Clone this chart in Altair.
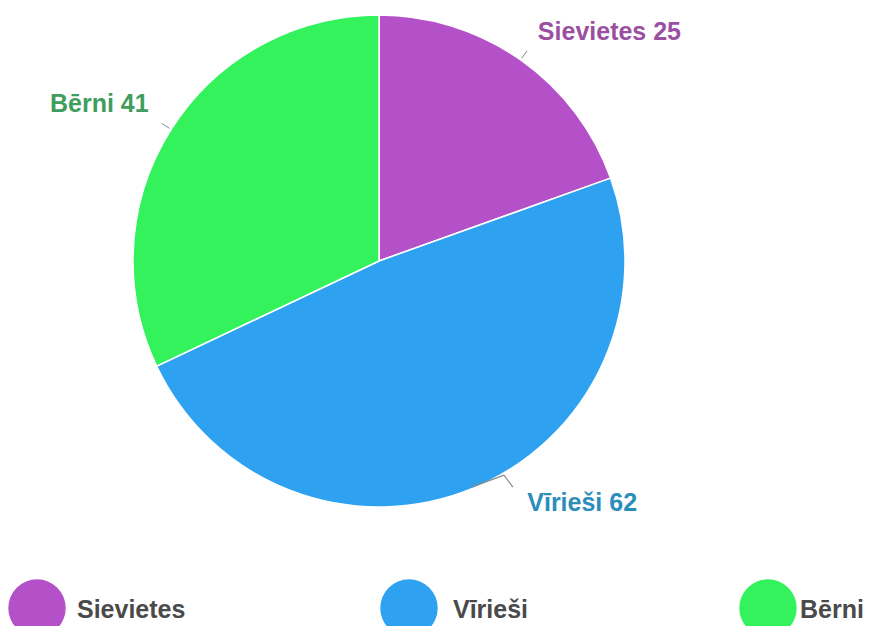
import altair as alt
import pandas as pd

categories = ["Sievietes", "Vīrieši", "Bērni"]
values = [25, 62, 41]
slice_colors = ["#B451C8", "#2EA2F0", "#33F25C"]
label_colors = ["#9A4FA3", "#2B8DBA", "#3F9E5E"]

df = pd.DataFrame({"category": categories, "value": values, "order": list(range(len(categories)))})

CX, CY, R = 371, 253, 246
FONT = "Liberation Sans, Arial, sans-serif"
color_scale = alt.Scale(domain=categories, range=slice_colors)

base = alt.Chart(df)

pie = base.mark_arc(stroke="white", strokeWidth=1.5, outerRadius=R).encode(
    theta=alt.Theta("value:Q", stack=True),
    color=alt.Color("category:N", scale=color_scale, legend=None),
    order=alt.Order("order:Q"),
    x=alt.value(CX),
    y=alt.value(CY),
)


def polar(chart):
    return (
        chart.transform_joinaggregate(total="sum(value)")
        .transform_window(cum="sum(value)", sort=[alt.SortField("order")], frame=[None, 0])
        .transform_calculate(mid="(datum.cum - datum.value/2)/datum.total*2*PI")
        .transform_calculate(
            x1=f"{CX} + {R + 2}*sin(datum.mid)",
            y1=f"{CY} - {R + 2}*cos(datum.mid)",
            x2=f"{CX} + {R + 11}*sin(datum.mid)",
            y2=f"{CY} - {R + 11}*cos(datum.mid)",
            lx=f"{CX} + 262*sin(datum.mid)",
            ly=f"{CY} - 262*cos(datum.mid)",
        )
    )


connectors = (
    polar(base)
    .transform_filter(alt.datum.category != "Vīrieši")
    .mark_rule(color="#8a8a8a", strokeWidth=1)
    .encode(
        x=alt.X("x1:Q", scale=None),
        y=alt.Y("y1:Q", scale=None),
        x2="x2:Q",
        y2="y2:Q",
    )
)

# bracket-shaped connector for the bottom label
bracket_a = (
    polar(base)
    .transform_filter(alt.datum.category == "Vīrieši")
    .transform_calculate(bx="datum.x1 - 2", by="datum.y1 - 3", cx2="datum.x1 + 30", cy2="datum.y1 - 15")
    .mark_rule(color="#8a8a8a", strokeWidth=1.2)
    .encode(x=alt.X("bx:Q", scale=None), y=alt.Y("by:Q", scale=None), x2="cx2:Q", y2="cy2:Q")
)
bracket_b = (
    polar(base)
    .transform_filter(alt.datum.category == "Vīrieši")
    .transform_calculate(bx="datum.x1 + 30", by="datum.y1 - 15", cx2="datum.x1 + 39", cy2="datum.y1 - 3")
    .mark_rule(color="#8a8a8a", strokeWidth=1.2)
    .encode(x=alt.X("bx:Q", scale=None), y=alt.Y("by:Q", scale=None), x2="cx2:Q", y2="cy2:Q")
)

label_cfg = {
    "Sievietes": dict(dx=8, dy=-15, align="left"),
    "Vīrieši": dict(dx=48, dy=0, align="left"),
    "Bērni": dict(dx=-9, dy=-17, align="right"),
}

labels = []
for cat, col in zip(categories, label_colors):
    cfg = label_cfg[cat]
    labels.append(
        polar(base)
        .transform_filter(alt.datum.category == cat)
        .transform_calculate(lab="datum.category + ' ' + datum.value")
        .mark_text(
            font=FONT, fontSize=25, fontWeight="bold", color=col,
            baseline="middle", **cfg
        )
        .encode(x=alt.X("lx:Q", scale=None), y=alt.Y("ly:Q", scale=None), text="lab:N")
    )

legend_dots = base.mark_circle(size=3300, opacity=1).encode(
    x=alt.X("order:Q", scale=alt.Scale(domain=[0, 1, 2], range=[29, 401, 760]), axis=None),
    y=alt.value(600),
    color=alt.Color("category:N", scale=color_scale, legend=None),
)

legend_text = base.mark_text(
    font=FONT, fontSize=25, fontWeight="bold", color="#4a4a4a", align="left", baseline="middle"
).encode(
    x=alt.X("order:Q", scale=alt.Scale(domain=[0, 1, 2], range=[69, 445, 792]), axis=None),
    y=alt.value(602),
    text="category:N",
)

chart = (
    alt.layer(pie, connectors, bracket_a, bracket_b, *labels, legend_dots, legend_text)
    .resolve_scale(x="independent")
    .properties(width=856, height=618, padding=0, background="white",
                autosize=alt.AutoSizeParams(type="none"))
    .configure_view(stroke=None)
)

chart.save("out.html", embed_options={"renderer": "svg", "actions": False})
